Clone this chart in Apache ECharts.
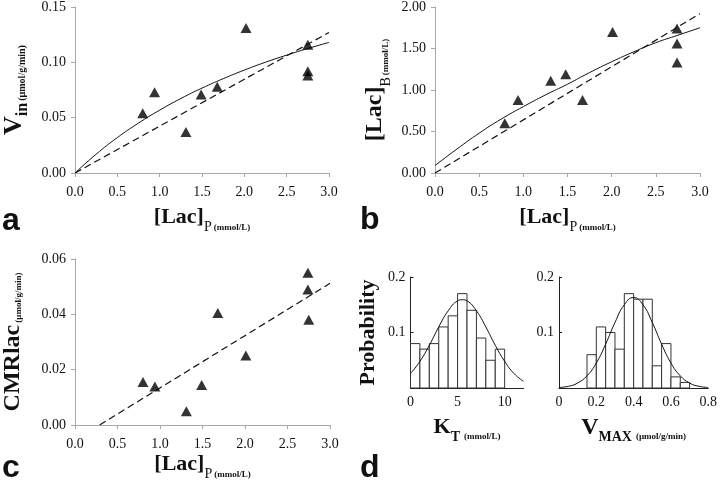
<!DOCTYPE html>
<html><head><meta charset="utf-8">
<script src="https://cdn.jsdelivr.net/npm/echarts@6/dist/echarts.min.js"></script>
<style>html,body{margin:0;padding:0;background:#fff}#c{width:720px;height:482px}</style>
</head><body><div id="c"></div>
<script>
// ---- Panel a: Vin vs [Lac]P ----
const aLacP = [0.80, 0.94, 1.31, 1.49, 1.68, 2.02, 2.75, 2.75, 2.75];
const aVin  = [0.054, 0.073, 0.037, 0.071, 0.078, 0.131, 0.116, 0.092, 0.088];
const aFitX = [0, 0.25, 0.5, 0.75, 1.0, 1.25, 1.5, 1.75, 2.0, 2.25, 2.5, 2.75, 3.0];
const aFitY = [0, 0.0170, 0.0320, 0.0451, 0.0568, 0.0673, 0.0767, 0.0852, 0.0930, 0.1001, 0.1065, 0.1125, 0.118];
const aDashX = [0, 3.0];
const aDashY = [0, 0.127];
// ---- Panel b: [Lac]B vs [Lac]P ----
const bLacP = [0.79, 0.94, 1.31, 1.48, 1.67, 2.01, 2.74, 2.74, 2.74];
const bLacB = [0.60, 0.88, 1.11, 1.19, 0.88, 1.70, 1.74, 1.56, 1.33];
const bFitX = [0, 0.25, 0.5, 0.75, 1.0, 1.25, 1.5, 1.75, 2.0, 2.25, 2.5, 2.75, 3.0];
const bFitY = [0.09, 0.29, 0.48, 0.65, 0.80, 0.94, 1.07, 1.21, 1.34, 1.46, 1.57, 1.66, 1.75];
const bDashX = [0, 3.0];
const bDashY = [0, 1.92];
// ---- Panel c: CMRlac vs [Lac]P ----
const cLacP = [0.80, 0.94, 1.31, 1.49, 1.68, 2.01, 2.74, 2.74, 2.75];
const cCMR  = [0.0155, 0.0139, 0.0050, 0.0145, 0.0405, 0.0251, 0.055, 0.049, 0.038];
const cDashX = [0.29, 3.0];
const cDashY = [0, 0.0512];
// ---- Panel d: histograms ----
const ktBinStart = [0, 1, 2, 3, 4, 5, 6, 7, 8, 9];
const ktBinEnd   = [1, 2, 3, 4, 5, 6, 7, 8, 9, 10];
const ktProb     = [0.08, 0.07, 0.08, 0.11, 0.13, 0.17, 0.14, 0.09, 0.05, 0.07];
const ktCurveX = [0, 1, 2, 3, 4, 5, 5.5, 6, 7, 8, 9, 10, 11, 12];
const ktCurveY = [0.026, 0.048, 0.077, 0.110, 0.139, 0.157, 0.159, 0.157, 0.139, 0.110, 0.077, 0.048, 0.026, 0.012];
const vmBinStart = [0.15, 0.20, 0.25, 0.30, 0.35, 0.40, 0.45, 0.50, 0.55, 0.60, 0.65];
const vmBinEnd   = [0.20, 0.25, 0.30, 0.35, 0.40, 0.45, 0.50, 0.55, 0.60, 0.65, 0.70];
const vmProb     = [0.06, 0.11, 0.10, 0.07, 0.17, 0.16, 0.16, 0.04, 0.08, 0.02, 0.01];
const vmCurveX = [0, 0.05, 0.1, 0.15, 0.2, 0.25, 0.3, 0.35, 0.4, 0.45, 0.5, 0.55, 0.6, 0.65, 0.7, 0.75, 0.8];
const vmCurveY = [0.001, 0.003, 0.009, 0.022, 0.045, 0.079, 0.118, 0.150, 0.163, 0.150, 0.118, 0.079, 0.045, 0.022, 0.009, 0.003, 0.001];

const zip = (xs, ys) => xs.map((x, i) => [x, ys[i]]);
const bins = (s, e, p) => s.map((x, i) => [x, e[i], p[i]]);

const SERIF = 'Liberation Serif';
const gray = '#a8a8a8';
const labelStyle = {fontFamily: SERIF, fontSize: 14, color: '#111'};

function scatterXAxis(gridIndex, nameRich, nameText) {
  return {
    type: 'value', gridIndex, min: 0, max: 3, interval: 0.5,
    axisLine: {lineStyle: {color: gray, width: 1}},
    axisTick: {show: true, length: 4, lineStyle: {color: gray}},
    splitLine: {show: false},
    axisLabel: Object.assign({margin: 12, formatter: v => v.toFixed(1)}, labelStyle),
    name: nameText, nameLocation: 'middle', nameGap: 33,
    nameTextStyle: {rich: nameRich}
  };
}
function scatterYAxis(gridIndex, max, interval, nameText, nameRich, gap) {
  return {
    type: 'value', gridIndex, min: 0, max, interval,
    axisLine: {show: true, lineStyle: {color: gray, width: 1}},
    axisTick: {show: true, length: 4, lineStyle: {color: gray}},
    splitLine: {show: false},
    axisLabel: Object.assign({margin: 9, formatter: v => v.toFixed(2)}, labelStyle),
    name: nameText, nameLocation: 'middle', nameGap: gap, nameRotate: 90,
    nameTextStyle: {rich: nameRich}
  };
}
const lacRich = {
  big: {fontFamily: SERIF, fontWeight: 'bold', fontSize: 22, lineHeight: 28, verticalAlign: 'top', color: '#111'},
  sub: {fontFamily: SERIF, fontSize: 14, lineHeight: 14, verticalAlign: 'bottom', color: '#111', padding: [0, 2, 0, 0]},
  unit: {fontFamily: SERIF, fontWeight: 'bold', fontSize: 9, lineHeight: 9, verticalAlign: 'bottom', color: '#111', padding: [0, 0, 2, 0]}
};
const lacName = '{big|[Lac]}{sub|P}{unit|(mmol/L)}';

const option = {
  animation: false,
  backgroundColor: '#fff',
  grid: [
    {left: 65, top: 5, width: 264, height: 168},
    {left: 435, top: 4, width: 265, height: 169},
    {left: 65, top: 259, width: 265, height: 168},
    {left: 410.5, top: 277, width: 113, height: 111},
    {left: 559, top: 277, width: 152, height: 111}
  ],
  xAxis: [
    scatterXAxis(0, lacRich, lacName),
    scatterXAxis(1, lacRich, lacName),
    Object.assign(scatterXAxis(2, lacRich, lacName), {nameGap: 28}),
    {
      type: 'value', gridIndex: 3, min: 0, max: 12, interval: 5,
      axisLine: {lineStyle: {color: '#222'}}, axisTick: {show: false}, splitLine: {show: false},
      axisLabel: Object.assign({margin: 7, formatter: v => (v % 5 === 0 ? String(v) : '')}, labelStyle),
      name: '{big|K}{sub|T}{unit|(mmol/L)}', nameLocation: 'middle', nameGap: 28,
      nameTextStyle: {rich: {
        big: {fontFamily: SERIF, fontWeight: 'bold', fontSize: 22, lineHeight: 28, verticalAlign: 'top', color: '#111'},
        sub: {fontFamily: SERIF, fontWeight: 'bold', fontSize: 14, lineHeight: 14, verticalAlign: 'bottom', color: '#111', padding: [0, 4, 0, 0]},
        unit: {fontFamily: SERIF, fontWeight: 'bold', fontSize: 9, lineHeight: 9, verticalAlign: 'bottom', color: '#111', padding: [0, 0, 3, 0]}
      }}
    },
    {
      type: 'value', gridIndex: 4, min: 0, max: 0.8, interval: 0.2,
      axisLine: {lineStyle: {color: '#222'}}, axisTick: {show: false}, splitLine: {show: false},
      axisLabel: Object.assign({margin: 7, formatter: v => (v === 0 ? '0' : v.toFixed(1))}, labelStyle),
      name: '{big|V}{sub|MAX}{unit|(µmol/g/min)}', nameLocation: 'middle', nameGap: 28,
      nameTextStyle: {rich: {
        big: {fontFamily: SERIF, fontWeight: 'bold', fontSize: 24, lineHeight: 28, verticalAlign: 'top', color: '#111'},
        sub: {fontFamily: SERIF, fontWeight: 'bold', fontSize: 14, lineHeight: 14, verticalAlign: 'bottom', color: '#111', padding: [0, 4, 0, 0]},
        unit: {fontFamily: SERIF, fontWeight: 'bold', fontSize: 9, lineHeight: 9, verticalAlign: 'bottom', color: '#111', padding: [0, 0, 3, 0]}
      }}
    }
  ],
  yAxis: [
    scatterYAxis(0, 0.15, 0.05, '{big|V}{sub|in}{unit|(µmol/g/min)}', {
      big: {fontFamily: SERIF, fontWeight: 'bold', fontSize: 26, lineHeight: 30, verticalAlign: 'top', color: '#111'},
      sub: {fontFamily: SERIF, fontWeight: 'bold', fontSize: 16, lineHeight: 16, verticalAlign: 'bottom', color: '#111', padding: [0, 2, 0, 0]},
      unit: {fontFamily: SERIF, fontWeight: 'bold', fontSize: 10, lineHeight: 10, verticalAlign: 'bottom', color: '#111', padding: [0, 0, 4, 0]}
    }, 44),
    scatterYAxis(1, 2.0, 0.5, '{big|[Lac]}{sub|B}{unit|(mmol/L)}', {
      big: {fontFamily: SERIF, fontWeight: 'bold', fontSize: 24, lineHeight: 30, verticalAlign: 'top', color: '#111'},
      sub: {fontFamily: SERIF, fontSize: 14, lineHeight: 14, verticalAlign: 'bottom', color: '#111', padding: [0, 2, 0, 0]},
      unit: {fontFamily: SERIF, fontWeight: 'bold', fontSize: 9, lineHeight: 9, verticalAlign: 'bottom', color: '#111', padding: [0, 0, 3, 0]}
    }, 42),
    scatterYAxis(2, 0.06, 0.02, '{big|CMRlac}{unit|(µmol/g/min)}', {
      big: {fontFamily: SERIF, fontWeight: 'bold', fontSize: 24, lineHeight: 30, verticalAlign: 'top', color: '#111', padding: [0, 2, 0, 0]},
      unit: {fontFamily: SERIF, fontWeight: 'bold', fontSize: 9, lineHeight: 9, verticalAlign: 'bottom', color: '#111', padding: [0, 0, 8, 0]}
    }, 44),
    {
      type: 'value', gridIndex: 3, min: 0, max: 0.2, interval: 0.1,
      axisLine: {show: true, lineStyle: {color: '#222'}},
      axisTick: {show: true, inside: true, length: 3, lineStyle: {color: '#222'}},
      splitLine: {show: false},
      axisLabel: Object.assign({margin: 5, formatter: v => (v === 0 ? '' : v.toFixed(1))}, labelStyle),
      name: 'Probability', nameLocation: 'middle', nameGap: 31, nameRotate: 90,
      nameTextStyle: {fontFamily: SERIF, fontWeight: 'bold', fontSize: 22, color: '#111'}
    },
    {
      type: 'value', gridIndex: 4, min: 0, max: 0.2, interval: 0.1,
      axisLine: {show: true, lineStyle: {color: '#222'}},
      axisTick: {show: true, inside: true, length: 3, lineStyle: {color: '#222'}},
      splitLine: {show: false},
      axisLabel: Object.assign({margin: 5, formatter: v => (v === 0 ? '' : v.toFixed(1))}, labelStyle)
    }
  ],
  graphic: [
    {type: 'text', left: 2, top: 205, style: {text: 'a', font: 'bold 32px "Liberation Sans"', fill: '#111'}},
    {type: 'text', left: 360, top: 204, style: {text: 'b', font: 'bold 32px "Liberation Sans"', fill: '#111'}},
    {type: 'text', left: 2, top: 452, style: {text: 'c', font: 'bold 32px "Liberation Sans"', fill: '#111'}},
    {type: 'text', left: 360, top: 452, style: {text: 'd', font: 'bold 32px "Liberation Sans"', fill: '#111'}}
  ],
  series: []
};

function addScatterPanel(idx, xs, ys, fitX, fitY, dashX, dashY) {
  if (fitX) option.series.push({type: 'line', xAxisIndex: idx, yAxisIndex: idx, data: zip(fitX, fitY), smooth: true,
    showSymbol: false, lineStyle: {color: '#111', width: 1}, silent: true});
  option.series.push({type: 'line', xAxisIndex: idx, yAxisIndex: idx, data: zip(dashX, dashY), showSymbol: false,
    lineStyle: {color: '#111', width: 1.2, type: [7, 4]}, silent: true});
  option.series.push({type: 'scatter', xAxisIndex: idx, yAxisIndex: idx, data: zip(xs, ys), symbol: 'triangle',
    symbolSize: [11, 10], itemStyle: {color: '#000'}, z: 5});
}
addScatterPanel(0, aLacP, aVin, aFitX, aFitY, aDashX, aDashY);
addScatterPanel(1, bLacP, bLacB, bFitX, bFitY, bDashX, bDashY);
addScatterPanel(2, cLacP, cCMR, null, null, cDashX, cDashY);

function histRender(params, api) {
  const p0 = api.coord([api.value(0), api.value(2)]);
  const p1 = api.coord([api.value(1), 0]);
  return {type: 'rect', shape: {x: p0[0], y: p0[1], width: p1[0] - p0[0], height: p1[1] - p0[1]},
    style: {fill: '#fff', stroke: '#333', lineWidth: 1}};
}
function addHist(idx, s, e, p, cx, cy) {
  option.series.push({type: 'custom', xAxisIndex: idx, yAxisIndex: idx, renderItem: histRender,
    encode: {x: [0, 1], y: 2}, data: bins(s, e, p)});
  option.series.push({type: 'line', xAxisIndex: idx, yAxisIndex: idx, data: zip(cx, cy), smooth: true,
    showSymbol: false, lineStyle: {color: '#111', width: 1}, z: 4, silent: true});
}
addHist(3, ktBinStart, ktBinEnd, ktProb, ktCurveX, ktCurveY);
addHist(4, vmBinStart, vmBinEnd, vmProb, vmCurveX, vmCurveY);

const chart = echarts.init(document.getElementById('c'), null, {renderer: 'canvas'});
chart.setOption(option);
</script>
</body></html>
